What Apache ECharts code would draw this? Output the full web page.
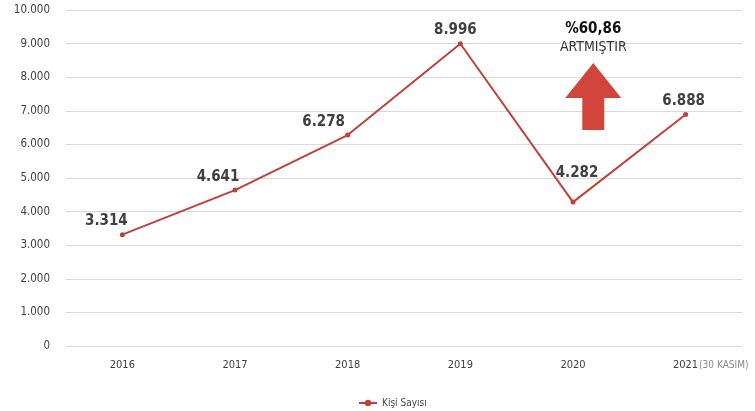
<!DOCTYPE html>
<html><head><meta charset="utf-8">
<script src="https://cdn.jsdelivr.net/npm/echarts@6/dist/echarts.min.js"></script>
<style>html,body{margin:0;padding:0;background:#fff}#c{width:755px;height:411px}</style>
</head><body><div id="c"></div>
<script>
var categories = ['2016','2017','2018','2019','2020','2021'];
var values = [3314, 4641, 6278, 8996, 4282, 6888];
var seriesName = 'Kişi Sayısı';
var annotationTop = '%60,86';
var annotationBottom = 'ARTMIŞTIR';
var lastSuffix = '(30 KASIM)';
// label nudges (style only)
var labelOffsets = [[-16,-1],[-17,0],[-24,0],[-5,-1],[4,-16],[-2,0]];

var FONT = '"DejaVu Sans Condensed","DejaVu Sans",sans-serif';
var ST = 'condensed';
function fmt(v){ return String(v).replace(/\B(?=(\d{3})+(?!\d))/g,'.'); }
var chart = echarts.init(document.getElementById('c'));
chart.setOption({
  animation:false,
  grid:{left:66,right:13,top:10,bottom:65},
  legend:{top:393,left:353,itemWidth:18,itemHeight:8,itemGap:4,
    textStyle:{fontFamily:FONT,fontStyle:ST,fontSize:10,color:'#444'},data:[seriesName]},
  xAxis:{type:'category',data:categories,
    axisLine:{show:false},axisTick:{show:false},
    axisLabel:{interval:0,margin:14,fontFamily:FONT,fontStyle:ST,fontSize:11,color:'#404040',
      formatter:function(v,i){ return i===categories.length-1 ? '{a|'+v+'}{b|'+lastSuffix+'}' : v; },
      rich:{a:{fontFamily:FONT,fontStyle:ST,fontSize:11,color:'#404040',padding:[0,0,0,50]},
            b:{fontFamily:FONT,fontStyle:ST,fontSize:10,color:'#888',padding:[0,0,0,1]}}}},
  yAxis:{type:'value',min:0,max:10000,interval:1000,
    axisLabel:{margin:16,fontFamily:FONT,fontStyle:ST,fontSize:11.5,color:'#404040',formatter:fmt},
    splitLine:{lineStyle:{color:'#d9d9d9'}}},
  series:[{name:seriesName,type:'line',
    data:values.map(function(v,i){ return {value:v,label:{offset:labelOffsets[i]}}; }),
    symbol:'circle',symbolSize:5,
    lineStyle:{color:'#c0403a',width:2},itemStyle:{color:'#c0403a'},
    label:{show:true,position:'top',distance:3,formatter:function(p){return fmt(p.value);},
      fontFamily:FONT,fontStyle:ST,fontSize:15,fontWeight:'bold',color:'#404040'}}]
});
function drawGraphic(){
  var p = chart.convertToPixel({xAxisIndex:0,yAxisIndex:0},[4,values[4]]);
  var q = chart.convertToPixel({xAxisIndex:0,yAxisIndex:0},[5,values[5]]);
  var cx = p[0] + (q[0]-p[0])*0.18;
  chart.setOption({graphic:[
    {type:'polygon',shape:{points:[[cx,63],[cx+28,98],[cx+11,98],[cx+11,130],[cx-11,130],[cx-11,98],[cx-28,98]]},
     style:{fill:'#d1453d'}},
    {type:'text',x:cx,y:22,style:{text:annotationTop,textAlign:'center',fontFamily:FONT,fontStyle:ST,fontSize:15,fontWeight:'bold',fill:'#111'}},
    {type:'text',x:cx,y:40,style:{text:annotationBottom,textAlign:'center',fontFamily:FONT,fontStyle:ST,fontSize:14,fill:'#333'}}
  ]});
}
drawGraphic();
</script></body></html>
